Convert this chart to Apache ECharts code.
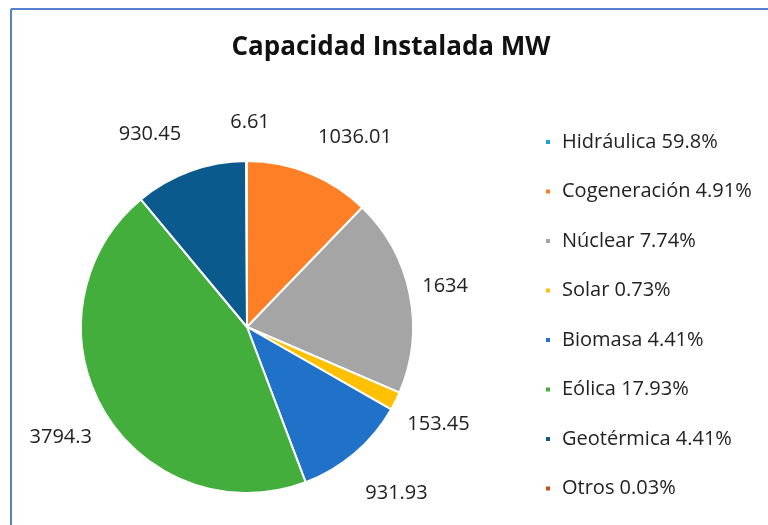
<!DOCTYPE html>
<html>
<head>
<meta charset="utf-8">
<script src="https://cdn.jsdelivr.net/npm/echarts@6/dist/echarts.min.js"></script>
<style>
  html, body { margin: 0; padding: 0; background: #fff; }
  #chart { width: 768px; height: 525px; }
</style>
</head>
<body>
<div id="chart"></div>
<script>
// datos de capacidad instalada (MW)
var names = ['Hidráulica', 'Cogeneración', 'Núclear', 'Solar', 'Biomasa', 'Eólica', 'Geotérmica', 'Otros'];
var values = [0, 1036.01, 1634, 153.45, 931.93, 3794.3, 930.45, 6.61];
var legendPct = ['59.8%', '4.91%', '7.74%', '0.73%', '4.41%', '17.93%', '4.41%', '0.03%'];
var colors = ['#1ba1e2', '#ff7f27', '#a5a5a5', '#ffc000', '#1f72c8', '#44ae3c', '#0b5a8e', '#c5500f'];

var pieX = 247, pieY = 327;

var chart = echarts.init(document.getElementById('chart'));

var data = [];
for (var i = 0; i < names.length; i++) {
    data.push({ name: names[i], value: values[i] });
}

var option = {
    color: colors,
    animation: false,
    title: {
        text: 'Capacidad Instalada MW',
        left: 386,
        top: 30,
        textAlign: 'center',
        textStyle: { fontFamily: 'Open Sans', fontSize: 26, fontWeight: 'bold', color: '#111' }
    },
    legend: {
        orient: 'vertical',
        left: 539,
        top: 127,
        itemGap: 29.5,
        itemWidth: 6,
        itemHeight: 6,
        icon: 'rect',
        textStyle: { fontFamily: 'Open Sans', fontSize: 20, color: '#222', padding: [0, 0, 0, 6] },
        formatter: function (name) {
            return name + ' ' + legendPct[names.indexOf(name)];
        },
        data: names
    },
    graphic: [
        { type: 'line', shape: { x1: 11, y1: 9, x2: 768, y2: 9 }, style: { stroke: '#5580d0', lineWidth: 2 } },
        { type: 'line', shape: { x1: 11, y1: 9, x2: 11, y2: 525 }, style: { stroke: '#5580d0', lineWidth: 2 } }
    ],
    series: [{
        type: 'pie',
        center: [pieX, pieY],
        radius: 166,
        startAngle: 90,
        clockwise: true,
        avoidLabelOverlap: false,
        itemStyle: { borderColor: '#fff', borderWidth: 2 },
        label: {
            show: true,
            position: 'outside',
            fontFamily: 'Open Sans',
            fontSize: 20,
            color: '#222',
            formatter: function (p) {
                return p.value ? String(p.value) : '';
            }
        },
        labelLine: { show: false, length: 12, length2: 4 },
        // el gráfico original es algo ovalado: estirar etiquetas en vertical
        labelLayout: function (p) {
            var r = p.labelRect;
            var vx = r.x + r.width / 2 - pieX;
            var vy = r.y + r.height / 2 - pieY;
            var dx = vx * -0.04;
            if (Math.abs(vx) < 50) dx = -vx + 3;
            return { dx: dx, dy: vy * (vy > 0 ? 0.23 : 0.15) };
        },
        data: data
    }]
};

chart.setOption(option);
</script>
</body>
</html>
